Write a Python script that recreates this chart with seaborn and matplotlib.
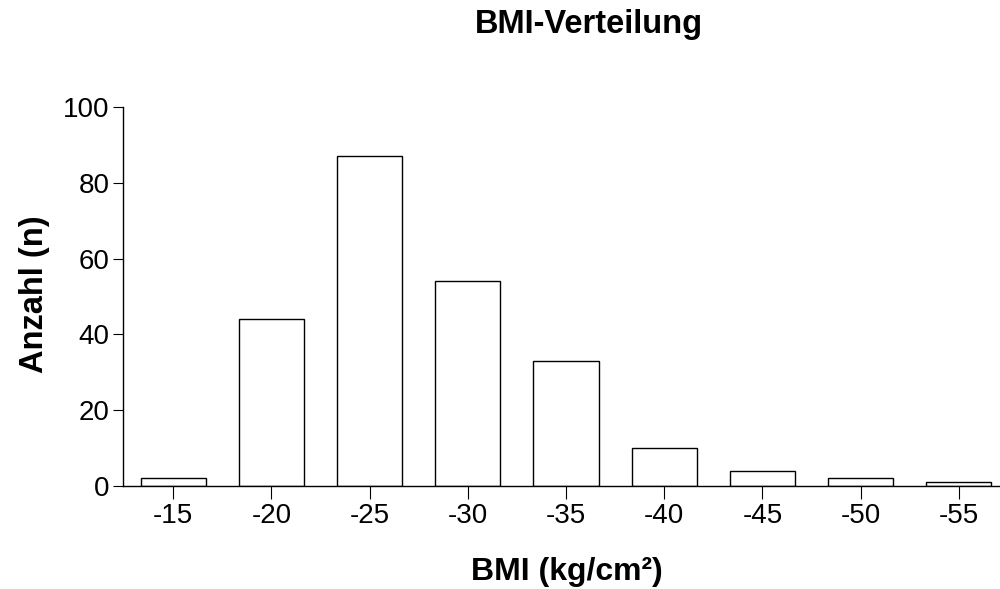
import matplotlib
matplotlib.use("Agg")
import matplotlib.pyplot as plt
import seaborn as sns
import pandas as pd

# BMI classes (upper bound of each class) and number of subjects per class
bmi_classes = ["-15", "-20", "-25", "-30", "-35", "-40", "-45", "-50", "-55"]
counts = [2, 44, 87, 54, 33, 10, 4, 2, 1]
y_ticks = [0, 20, 40, 60, 80, 100]

sns.set_style("ticks")
plt.rcParams["font.family"] = ["Liberation Sans", "DejaVu Sans"]
plt.rcParams["text.color"] = "black"

df = pd.DataFrame({"klasse": bmi_classes, "anzahl": counts})

fig = plt.figure(figsize=(10, 5.89), dpi=100)
ax = fig.add_axes([0.123, 0.175, 0.877, 0.643])

sns.barplot(data=df, x="klasse", y="anzahl", color="white", edgecolor="black",
            linewidth=1.0, width=0.665, saturation=1, ax=ax)

ax.set_xlim(-0.512, 8.42)
ax.set_ylim(0, 100)
ax.set_yticks(y_ticks)
ax.set_yticklabels([str(v) for v in y_ticks])

sns.despine(ax=ax)
for side in ("left", "bottom"):
    ax.spines[side].set_linewidth(1.0)
    ax.spines[side].set_color("black")

ax.tick_params(axis="y", length=7.5, width=0.8, labelsize=20, pad=2,
               colors="black", labelcolor="black")
ax.tick_params(axis="x", length=9, width=0.8, labelsize=20, pad=3,
               colors="black", labelcolor="black")

ax.set_xlabel("")
ax.set_ylabel("")
fig.text(0.567, 0.0155, "BMI (kg/cm²)", ha="center", va="baseline",
         fontsize=23, fontweight="bold", color="black")
fig.text(0.043, 0.5008, "Anzahl (n)", ha="center", va="baseline", rotation=90,
         rotation_mode="anchor", fontsize=23.5, fontweight="bold", color="black")
fig.text(0.589, 0.944, "BMI-Verteilung", ha="center", va="baseline",
         fontsize=23.5, fontweight="bold", color="black")

fig.savefig("out.png", dpi=100, facecolor="white")
